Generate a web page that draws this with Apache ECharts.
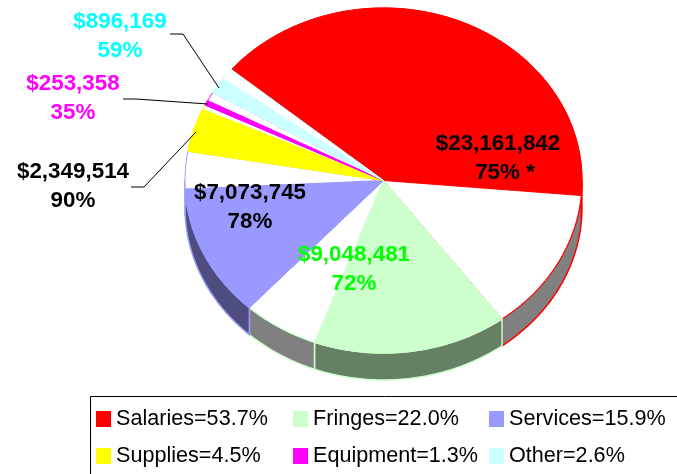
<!DOCTYPE html>
<html>
<head>
<meta charset="utf-8">
<style>
html, body { margin: 0; padding: 0; background: #fff; }
#main { width: 677px; height: 474px; }
</style>
<script src="https://cdn.jsdelivr.net/npm/echarts@6/dist/echarts.min.js"></script>
</head>
<body>
<div id="main"></div>
<script>
var categories = ['Salaries', 'Fringes', 'Services', 'Supplies', 'Equipment', 'Other'];
var shares = [53.7, 22.0, 15.9, 4.5, 1.3, 2.6];
var fillPercents = [75, 72, 78, 90, 35, 59];
var amounts = ['$23,161,842', '$9,048,481', '$7,073,745', '$2,349,514', '$253,358', '$896,169'];
var percentNotes = ['75% *', '72%', '78%', '90%', '35%', '59%'];

var colors = ['#ff0000', '#ccffcc', '#9999ff', '#ffff00', '#ff00ff', '#ccffff'];
var darkColors = ['#800000', '#668066', '#4d4d80', '#808000', '#800080', '#668080'];
var labelColors = ['#000000', '#00ff00', '#000000', '#000000', '#ff00ff', '#00ffff'];
// x centre, amount line y, percent line x shift
var labelCenters = [[498, 144, 7], [354, 255, 0], [250, 193, 0], [73, 172, 0], [73, 84, 0], [120, 22, 0]];
var leaders = [
  [[170, 34], [183, 34], [219, 88]],
  [[123, 99], [136, 99], [208, 104]],
  [[131, 187], [144, 187], [196, 132]]
];

var startAngle = -50; // degrees clockwise from 12 o'clock
var depth = 27;

function arc(api, from, to, dy) {
  var pts = [];
  var n = Math.max(1, Math.ceil(Math.abs(to - from)));
  for (var i = 0; i <= n; i++) {
    var t = (from + (to - from) * i / n) * Math.PI / 180;
    var p = api.coord([Math.sin(t), Math.cos(t)]);
    pts.push([p[0], p[1] + dy]);
  }
  return pts;
}

function wedge(api, from, to, fill, stroke) {
  var pts = [api.coord([0, 0])].concat(arc(api, from, to, 0));
  return { type: 'polygon', shape: { points: pts }, style: { fill: fill, stroke: stroke, lineWidth: 1 } };
}

function wall(api, from, to, fill, stroke) {
  var a = Math.max(from, 90), b = Math.min(to, 270);
  if (b <= a) return null;
  var pts = arc(api, a, b, 0).concat(arc(api, b, a, depth));
  return { type: 'polygon', shape: { points: pts }, style: { fill: fill, stroke: stroke, lineWidth: 1.5 } };
}

function makeRender(i, from) {
  return function (params, api) {
    var sweep = api.value(0) * 3.6;
    var split = from + sweep * api.value(1) / 100;
    var to = from + sweep;
    var kids = [
      wall(api, from, split, darkColors[i], colors[i]),
      wall(api, split, to, '#808080', colors[i]),
      wedge(api, from, to, '#ffffff', colors[i]),
      wedge(api, from, split, colors[i], colors[i])
    ].filter(Boolean);
    return { type: 'group', children: kids };
  };
}

var series = [];
var angle = startAngle;
categories.forEach(function (c, i) {
  series.push({
    type: 'custom',
    name: c + '=' + shares[i].toFixed(1) + '%',
    coordinateSystem: 'cartesian2d',
    clip: false,
    silent: true,
    itemStyle: { color: colors[i] },
    renderItem: makeRender(i, angle),
    data: [[shares[i], fillPercents[i]]],
    encode: { x: 0, y: 1 }
  });
  angle += shares[i] * 3.6;
});

function labelText(str, x, y, color) {
  return {
    type: 'text',
    x: x,
    y: y,
    z: 10,
    style: {
      text: str,
      fill: color,
      font: 'bold 22.4px "Liberation Sans"',
      align: 'center',
      verticalAlign: 'middle'
    }
  };
}

var graphics = [
  { type: 'rect', shape: { x: 90.5, y: 396.5, width: 640, height: 120 }, style: { fill: '#fff', stroke: '#000', lineWidth: 1 }, z: -1 }
];
leaders.forEach(function (pts) {
  graphics.push({ type: 'polyline', shape: { points: pts }, style: { fill: null, stroke: '#000', lineWidth: 1 }, z: 5 });
});
categories.forEach(function (c, i) {
  var pos = labelCenters[i];
  graphics.push(labelText(amounts[i], pos[0], pos[1], labelColors[i]));
  graphics.push(labelText(percentNotes[i], pos[0] + pos[2], pos[1] + 29, labelColors[i]));
});

function legendColumn(left, ids) {
  return {
    orient: 'vertical',
    left: left,
    top: 408,
    itemWidth: 15,
    itemHeight: 16,
    itemGap: 15,
    icon: 'rect',
    selectedMode: false,
    padding: 0,
    textStyle: { fontFamily: 'Liberation Sans', fontSize: 21.6, color: '#000' },
    data: ids.map(function (k) { return series[k].name; })
  };
}

var myChart = echarts.init(document.getElementById('main'), null, { renderer: 'canvas' });
myChart.setOption({
  animation: false,
  backgroundColor: '#fff',
  grid: { left: 185, right: 95, top: 8, bottom: 121 },
  xAxis: { type: 'value', min: -1, max: 1, show: false },
  yAxis: { type: 'value', min: -1, max: 1, show: false },
  legend: [legendColumn(96, [0, 3]), legendColumn(293, [1, 4]), legendColumn(489, [2, 5])],
  series: series,
  graphic: graphics
});
</script>
</body>
</html>
